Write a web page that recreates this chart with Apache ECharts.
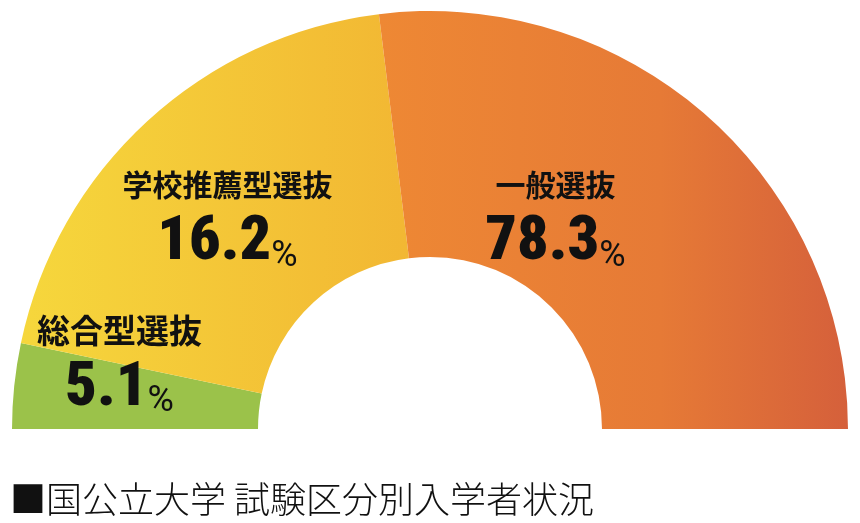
<!DOCTYPE html>
<html>
<head>
<meta charset="utf-8">
<script src="https://cdn.jsdelivr.net/npm/echarts@6/dist/echarts.min.js"></script>
<style>
html,body{margin:0;padding:0;background:#fff;}
#c{width:860px;height:523px;}
</style>
</head>
<body>
<div id="c"></div>
<script>
// Categories (left to right around the half ring)
const categories = ['総合型選抜', '学校推薦型選抜', '一般選抜'];
// Labelled percentages
const percents = [5.1, 16.2, 78.3];
// Arc share of each slice as drawn in the reference (not proportional to the labels)
const arcShares = [6.6, 39.5, 53.9];
const titleText = '■国公立大学 試験区分別入学者状況';

const fills = [
  '#9BC24A',
  {type:'linear', x:0, y:0, x2:1, y2:0, colorStops:[{offset:0,color:'#F6D73C'},{offset:1,color:'#F2B733'}]},
  {type:'linear', x:0, y:0, x2:1, y2:0, colorStops:[{offset:0,color:'#EE8834'},{offset:0.6,color:'#E67A36'},{offset:1,color:'#D5603B'}]}
];
const nameKeys = ['nw', 'n', 'n'];
const labelOffsets = [[-14, -37], [-1, 6], [-72, 10]];

const digitFont = "'Liberation Sans Narrow', 'Roboto Condensed', 'Arial Narrow', Roboto, sans-serif";
const nameStyle = {fontFamily: "'Noto Sans CJK JP', sans-serif", fontWeight: 'bold', fontSize: 30, lineHeight: 56, color: '#111'};

const chart = echarts.init(document.getElementById('c'));
chart.setOption({
  animation: false,
  title: {
    text: titleText,
    left: 5, top: 476,
    textStyle: {fontFamily: "'Noto Sans CJK JP', sans-serif", fontWeight: 300, fontSize: 36, color: '#111'}
  },
  series: [{
    type: 'pie',
    center: [430, 429],
    radius: [172, 418],
    startAngle: 180,
    endAngle: 0,
    clockwise: true,
    avoidLabelOverlap: false,
    label: {
      show: true,
      position: 'inside',
      formatter: p => '{' + nameKeys[p.dataIndex] + '|' + p.name + '}\n{v|' + percents[p.dataIndex].toFixed(1) + '}{p|%}',
      rich: {
        n: nameStyle,
        nw: Object.assign({}, nameStyle, {fontSize: 33}),
        v: {fontFamily: digitFont, fontWeight: 900, fontSize: 62, lineHeight: 62, color: '#111'},
        p: {fontFamily: "Roboto, sans-serif", fontWeight: 'normal', fontSize: 36, lineHeight: 42, verticalAlign: 'bottom', padding: [0, 0, 0, 0], color: '#111'}
      }
    },
    labelLine: {show: false},
    itemStyle: {borderWidth: 0},
    emphasis: {disabled: true},
    data: categories.map((c, i) => ({
      name: c,
      value: arcShares[i],
      itemStyle: {color: fills[i]},
      label: {offset: labelOffsets[i]}
    }))
  }]
});
</script>
</body>
</html>
